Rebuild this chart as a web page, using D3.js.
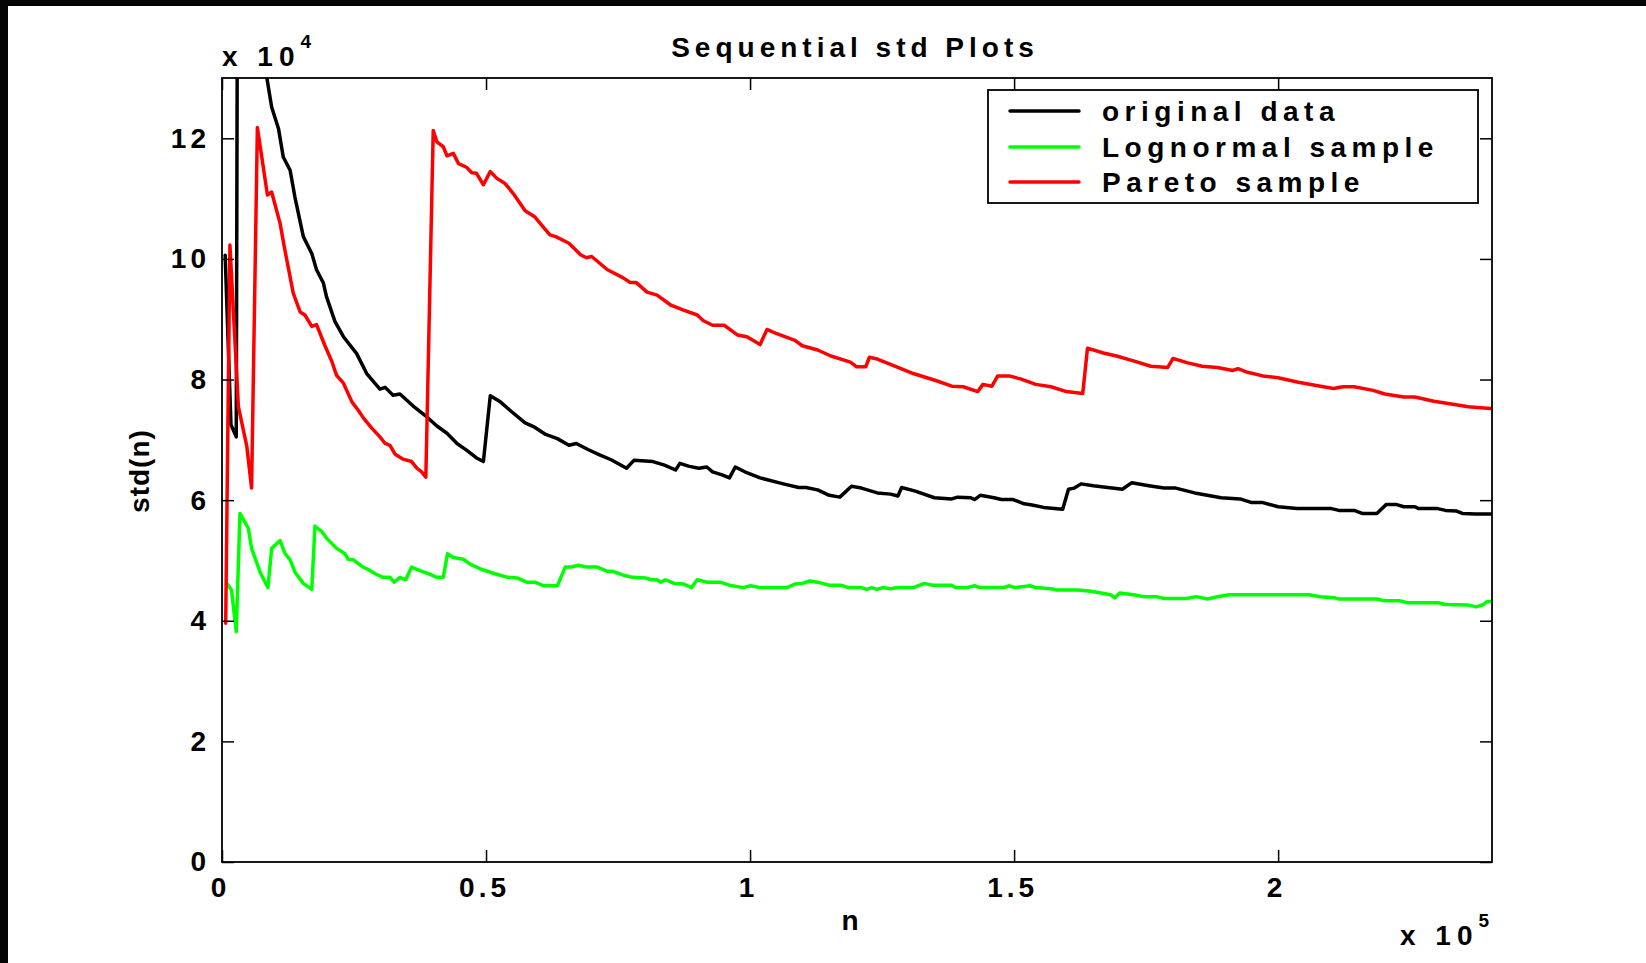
<!DOCTYPE html>
<html>
<head>
<meta charset="utf-8">
<script src="https://cdn.jsdelivr.net/npm/d3@7"></script>
<style>
  html, body { margin: 0; padding: 0; background: #fff; }
  svg text { font-family: "Liberation Sans", Arial, Helvetica, sans-serif; font-weight: bold; fill: #000; }
</style>
</head>
<body>
<svg id="chart" width="1646" height="963"></svg>
<script>
// Sequential standard deviation std(n) against sample size n, three data sets.
// Each entry is [n, std(n)].
const originalData = [
  [600,100600],[1700,72500],[2700,70500],[3000,175000],[5300,160000],[7200,136000],[8500,130000],
  [9400,125200],[10700,121600],[11600,116900],[12900,114700],[13800,110300],[15400,103700],[17000,100900],
  [17900,98200],[19200,96000],[19800,93700],[21400,89600],[23000,87100],[25500,84300],[27400,81000],
  [29900,78400],[30900,78700],[32400,77400],[33700,77600],[36200,75600],[38800,73800],[40700,72300],
  [42600,71100],[44500,69400],[46300,68300],[48200,67000],[49500,66400],[50800,77300],[52700,76300],
  [54800,74700],[57400,72800],[59200,72100],[61300,70900],[63500,70200],[65700,69100],[67100,69400],
  [69300,68400],[71500,67500],[73700,66700],[76600,65300],[78000,66600],[81600,66400],[83800,65800],
  [85900,65000],[86700,66100],[88500,65600],[90300,65300],[91800,65500],[92900,64700],[94700,64200],
  [96100,63700],[97200,65500],[99000,64700],[101900,63700],[106300,62700],[109200,62100],[110600,62100],
  [112800,61700],[115000,60800],[117000,60500],[119200,62300],[121100,62000],[124100,61200],[126600,61000],
  [128000,60700],[128700,62100],[131300,61500],[134900,60400],[138200,60200],[139300,60500],[141800,60400],
  [142500,60100],[143600,60800],[146200,60400],[147600,60100],[149800,60100],[151900,59400],[153400,59200],
  [155600,58800],[159200,58500],[160300,61800],[161400,62000],[162700,62700],[165000,62400],[170500,61800],
  [172300,62900],[175500,62400],[178400,62000],[180600,62000],[184200,61200],[189200,60400],[192800,60200],
  [195000,59600],[197100,59600],[200000,58900],[203600,58600],[210100,58600],[211500,58300],[214400,58300],
  [215900,57800],[218700,57800],[220500,59300],[222300,59300],[223800,58900],[225900,58900],[226600,58600],
  [230200,58600],[231700,58300],[233800,58200],[234900,57800],[237400,57700],[240500,57700]
];

const lognormalSample = [
  [900,46200],[1800,45100],[2700,38200],[3400,57800],[5000,55300],[5600,52000],[7200,48100],[8700,45500],
  [9400,52000],[11000,53300],[11900,51200],[12900,50100],[13800,48100],[15400,46200],[17000,45200],
  [17600,55700],[18900,54800],[19800,53700],[21700,52000],[23300,51100],[23900,50200],[24900,50100],
  [26500,49000],[27700,48500],[29000,47800],[30500,47200],[31800,47200],[32600,46400],[33700,47200],
  [34800,46800],[35900,48900],[37500,48300],[39100,47800],[40700,47200],[41900,47200],[42700,51100],
  [43800,50500],[45700,50200],[47000,49400],[49200,48500],[51700,47800],[54100,47200],[55900,47100],
  [57700,46400],[59200,46400],[61000,45800],[63500,45800],[65000,48900],[66100,48900],[67500,49200],
  [69000,48900],[71100,48900],[73000,48200],[74000,48200],[75900,47600],[77700,47200],[80200,47100],
  [81300,46800],[82400,46800],[83100,46400],[84000,46800],[85600,46200],[87400,46100],[88900,45500],
  [90000,46800],[91800,46400],[94300,46400],[96100,45900],[98700,45500],[100100,45800],[101900,45500],
  [107000,45500],[108500,46100],[109900,46200],[111400,46600],[112800,46400],[115000,45900],[117200,45900],
  [118600,45500],[121100,45500],[122100,45200],[123000,45500],[124100,45200],[125100,45500],[126600,45300],
  [128000,45500],[130900,45500],[133000,46200],[134600,45900],[138200,45900],[138900,45500],[141100,45500],
  [142500,45800],[143600,45500],[148000,45500],[149100,45800],[150100,45500],[153000,45800],[154100,45500],
  [157000,45300],[158100,45100],[162100,45100],[164600,44900],[168300,44300],[169100,43800],[170000,44600],
  [172600,44300],[174500,44000],[177000,44000],[178400,43700],[182700,43700],[184500,44000],[186700,43600],
  [188500,44000],[190700,44300],[205800,44300],[208000,44000],[210800,43800],[211500,43600],[218700,43600],
  [220200,43300],[223100,43300],[224500,43000],[230300,43000],[231700,42700],[236000,42600],[237500,42300],
  [238900,42700],[239600,43200],[240500,43200]
];

const paretoSample = [
  [700,39600],[1500,102300],[3100,75500],[4700,68900],[5600,62000],[6700,121800],[8600,110600],[9400,111100],
  [11000,105900],[11900,101500],[13500,94300],[14800,91200],[15700,90700],[17000,88800],[17900,89100],
  [19500,85600],[20800,83000],[21700,80700],[23000,79400],[24600,76300],[25800,74900],[26800,73600],
  [28400,71900],[29900,70500],[30900,69400],[31800,69100],[32800,67600],[34300,66800],[35900,66400],
  [36900,65300],[37800,64700],[38600,63800],[40000,121300],[40700,119400],[41900,118600],[42600,117100],
  [43800,117500],[44800,115800],[46300,115200],[47300,114300],[48200,114200],[49500,112300],[50800,114500],
  [52000,113400],[53600,112500],[55200,110800],[57400,108000],[59200,107000],[61000,105100],[62100,104000],
  [63200,103700],[65700,102600],[67900,100700],[69000,100200],[70000,100400],[73000,98200],[75900,96900],
  [77300,96100],[78400,96100],[80500,94500],[82400,94000],[84900,92400],[87400,91500],[90000,90700],
  [91100,89800],[92900,89000],[95100,89000],[97600,87400],[99400,87100],[101900,85800],[103200,88300],
  [104800,87700],[108500,86500],[109900,85600],[112800,84900],[115300,83900],[119000,82900],[120200,82100],
  [121900,82100],[122600,83700],[124100,83400],[128000,82000],[130900,81000],[135300,79800],[138200,78900],
  [140400,78800],[143100,78000],[144100,79200],[145800,78900],[146900,80600],[149100,80600],[151200,80100],
  [154100,79200],[157000,78800],[159900,78000],[163000,77700],[163900,85200],[166900,84400],[169400,83900],
  [172600,83100],[175900,82200],[179100,82000],[180100,83500],[182700,82800],[185600,82200],[188500,82000],
  [191400,81500],[192400,81800],[194200,81200],[197100,80600],[200000,80300],[203600,79600],[207200,79000],
  [210500,78500],[212300,78800],[214400,78800],[218000,78200],[220200,77600],[223800,77100],[225900,77100],
  [229500,76400],[233100,75900],[236000,75500],[238900,75300],[240500,75200]
];

const seriesNames = ["original data", "Lognormal sample", "Pareto sample"];
const seriesColors = ["#000000", "#00ff00", "#ff0000"];
const seriesData = [originalData, lognormalSample, paretoSample];

const xTickValues = [0, 50000, 100000, 150000, 200000];
const xTickLabels = ["0", "0.5", "1", "1.5", "2"];
const yTickValues = [0, 20000, 40000, 60000, 80000, 100000, 120000];
const yTickLabels = ["0", "2", "4", "6", "8", "10", "12"];
const nMax = 240500;
const stdMax = 130000;

const titleText = "Sequential std Plots";
const xLabelText = "n";
const yLabelText = "std(n)";

// ---- layout ----
const W = 1646, H = 963;
const plot = { left: 222, right: 1492, top: 78, bottom: 862 };
const FS = 28;      // main font size

const svg = d3.select("#chart");
svg.append("rect").attr("width", W).attr("height", H).attr("fill", "#fff");
// dark frame strips on top and left
svg.append("rect").attr("x", 0).attr("y", 0).attr("width", W).attr("height", 6).attr("fill", "#050505");
svg.append("rect").attr("x", 0).attr("y", 0).attr("width", 8).attr("height", H).attr("fill", "#050505");

const x = d3.scaleLinear().domain([0, nMax]).range([plot.left, plot.right]);
const y = d3.scaleLinear().domain([0, stdMax]).range([plot.bottom, plot.top]);

svg.append("defs").append("clipPath").attr("id", "plotClip")
  .append("rect").attr("x", plot.left).attr("y", plot.top)
  .attr("width", plot.right - plot.left).attr("height", plot.bottom - plot.top);

// ---- series lines ----
const line = d3.line().x(d => x(d[0])).y(d => y(d[1]));
const lines = svg.append("g").attr("clip-path", "url(#plotClip)");
seriesData.forEach((data, i) => {
  lines.append("path").datum(data)
    .attr("d", line)
    .attr("fill", "none")
    .attr("stroke", seriesColors[i])
    .attr("stroke-width", 3.5)
    .attr("stroke-linejoin", "round")
    .attr("stroke-linecap", "round");
});

// ---- axes (ticks point inward on all four sides) ----
const TL = 12;
const fmtX = d => xTickLabels[xTickValues.indexOf(d)];
const fmtY = d => yTickLabels[yTickValues.indexOf(d)];

const gx = svg.append("g").attr("transform", `translate(-2,${plot.bottom})`)
  .call(d3.axisBottom(x).tickValues(xTickValues).tickFormat(fmtX).tickSize(-TL).tickPadding(15));
const gxt = svg.append("g").attr("transform", `translate(0,${plot.top})`)
  .call(d3.axisTop(x).tickValues(xTickValues).tickFormat("").tickSize(-TL));
const gy = svg.append("g").attr("transform", `translate(${plot.left},0)`)
  .call(d3.axisLeft(y).tickValues(yTickValues).tickFormat(fmtY).tickSize(-TL).tickPadding(12));
const gyr = svg.append("g").attr("transform", `translate(${plot.right},0)`)
  .call(d3.axisRight(y).tickValues(yTickValues).tickFormat("").tickSize(-TL));

// keep bottom tick marks on their values despite the label nudge
gx.selectAll(".tick line").attr("transform", "translate(2,0)");

[gx, gxt, gy, gyr].forEach(g => {
  g.select(".domain").remove();
  g.selectAll(".tick line").attr("stroke", "#000").attr("stroke-width", 1.5);
  g.selectAll("text").attr("font-size", FS).attr("letter-spacing", 4)
    .style("font-family", "'Liberation Sans', Arial, sans-serif").style("font-weight", "bold").attr("fill", "#000");
});

// axes box
svg.append("rect")
  .attr("x", plot.left).attr("y", plot.top)
  .attr("width", plot.right - plot.left).attr("height", plot.bottom - plot.top)
  .attr("fill", "none").attr("stroke", "#000").attr("stroke-width", 1.8);

// ---- title and axis labels ----
svg.append("text").attr("x", 855).attr("y", 57).attr("text-anchor", "middle")
  .attr("font-size", FS).attr("letter-spacing", 5).text(titleText);
svg.append("text").attr("x", 850).attr("y", 930).attr("text-anchor", "middle")
  .attr("font-size", FS).text(xLabelText);
svg.append("text").attr("transform", "translate(149,471) rotate(-90)").attr("text-anchor", "middle")
  .attr("font-size", FS).attr("letter-spacing", 1).text(yLabelText);

// axis exponent labels
const yExp = svg.append("text").attr("x", 222).attr("y", 66).attr("font-size", FS).attr("letter-spacing", 6);
yExp.append("tspan").text("x 10");
yExp.append("tspan").attr("dy", -18).attr("font-size", 19).text("4");
const xExp = svg.append("text").attr("x", 1400).attr("y", 945).attr("font-size", FS).attr("letter-spacing", 6);
xExp.append("tspan").text("x 10");
xExp.append("tspan").attr("dy", -18).attr("font-size", 19).text("5");

// ---- legend ----
const leg = { left: 988, top: 90, right: 1478, bottom: 203 };
const lg = svg.append("g");
lg.append("rect").attr("x", leg.left).attr("y", leg.top)
  .attr("width", leg.right - leg.left).attr("height", leg.bottom - leg.top)
  .attr("fill", "#fff").attr("stroke", "#000").attr("stroke-width", 1.8);
const rowY = [111, 147, 182];
seriesNames.forEach((name, i) => {
  lg.append("line").attr("x1", 1010).attr("x2", 1079).attr("y1", rowY[i]).attr("y2", rowY[i])
    .attr("stroke", seriesColors[i]).attr("stroke-width", 3.5).attr("stroke-linecap", "round");
  lg.append("text").attr("x", 1102).attr("y", rowY[i] + 10)
    .attr("font-size", FS).attr("letter-spacing", 5.5).text(name);
});
</script>
</body>
</html>
